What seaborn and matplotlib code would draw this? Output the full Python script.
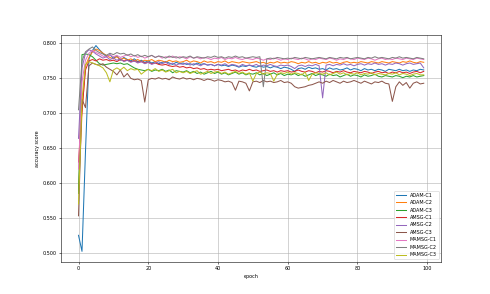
import numpy as np
import pandas as pd
import matplotlib
matplotlib.use("Agg")
import matplotlib.pyplot as plt
import seaborn as sns
from matplotlib.ticker import MultipleLocator, FormatStrFormatter

epochs = list(range(100))
series_names = ["ADAM-C1", "ADAM-C2", "ADAM-C3", "AMSG-C1", "AMSG-C2",
                "AMSG-C3", "MAMSG-C1", "MAMSG-C2", "MAMSG-C3"]
series_colors = ["#1f77b4", "#ff7f0e", "#2ca02c", "#d62728", "#9467bd",
                 "#8c564b", "#e377c2", "#7f7f7f", "#bcbd22"]

adam_c1 = [.525, .502, .645, .778, .790, .797, .791, .786, .781, .784,
           .779, .782, .776, .780, .777, .775, .778, .774, .776, .773,
           .775, .772, .774, .771, .773, .774, .772, .770, .773, .771,
           .772, .770, .771, .769, .772, .770, .771, .769, .770, .768,
           .770, .768, .769, .767, .769, .768, .766, .768, .767, .769,
           .767, .766, .768, .766, .767, .765, .767, .766, .764, .766,
           .765, .763, .760, .764, .765, .763, .766, .764, .765, .763,
           .764, .762, .765, .763, .764, .762, .763, .765, .762, .764,
           .763, .761, .764, .762, .763, .761, .763, .762, .760, .763,
           .762, .761, .763, .761, .762, .760, .762, .761, .763, .762]
adam_c2 = [.590, .700, .768, .780, .788, .792, .790, .786, .783, .780,
           .778, .781, .777, .779, .776, .778, .775, .777, .774, .776,
           .775, .777, .774, .776, .775, .773, .776, .774, .775, .773,
           .774, .776, .773, .775, .774, .772, .775, .773, .774, .772,
           .774, .773, .775, .772, .774, .773, .772, .774, .773, .772,
           .773, .774, .772, .773, .771, .773, .772, .774, .772, .773,
           .772, .774, .773, .771, .773, .772, .774, .772, .773, .771,
           .773, .772, .774, .772, .773, .771, .773, .774, .772, .773,
           .772, .774, .773, .772, .774, .773, .772, .774, .773, .772,
           .774, .773, .772, .774, .773, .775, .773, .772, .774, .773]
adam_c3 = [.585, .784, .785, .784, .781, .776, .771, .769, .770, .771,
           .772, .771, .772, .770, .771, .768, .765, .763, .762, .761,
           .763, .760, .762, .761, .763, .760, .762, .758, .761, .760,
           .759, .761, .758, .760, .757, .759, .756, .758, .760, .757,
           .759, .756, .758, .755, .757, .759, .756, .758, .755, .757,
           .756, .758, .755, .757, .754, .756, .758, .755, .757, .754,
           .756, .755, .757, .754, .756, .753, .755, .757, .754, .756,
           .755, .753, .756, .754, .755, .752, .754, .756, .753, .755,
           .754, .752, .755, .753, .754, .756, .753, .752, .754, .753,
           .752, .754, .753, .751, .753, .752, .754, .752, .753, .754]
amsg_c1 = [.630, .705, .762, .775, .777, .775, .778, .776, .777, .775,
           .776, .774, .777, .775, .776, .774, .775, .773, .774, .772,
           .773, .771, .772, .770, .769, .770, .768, .767, .768, .766,
           .767, .765, .766, .764, .765, .763, .764, .762, .763, .762,
           .763, .761, .762, .763, .761, .762, .760, .762, .761, .763,
           .761, .762, .760, .761, .762, .760, .761, .759, .761, .760,
           .761, .759, .760, .762, .760, .759, .761, .760, .758, .760,
           .759, .761, .760, .758, .760, .759, .761, .759, .758, .760,
           .759, .758, .760, .759, .757, .759, .760, .758, .759, .757,
           .759, .758, .760, .758, .759, .757, .759, .760, .758, .760]
amsg_c2 = [.664, .765, .786, .791, .789, .785, .782, .779, .781, .777,
           .779, .776, .778, .774, .776, .773, .775, .772, .774, .771,
           .773, .770, .772, .774, .771, .773, .770, .772, .769, .771,
           .770, .772, .769, .771, .770, .768, .771, .769, .770, .768,
           .770, .769, .771, .768, .770, .769, .767, .770, .768, .769,
           .768, .770, .767, .769, .768, .770, .768, .767, .769, .768,
           .769, .767, .764, .768, .769, .767, .769, .768, .770, .768,
           .722, .769, .770, .768, .770, .769, .771, .769, .770, .768,
           .770, .771, .769, .771, .770, .772, .770, .771, .769, .771,
           .770, .772, .771, .769, .771, .772, .770, .771, .772, .765]
amsg_c3 = [.553, .720, .708, .768, .772, .770, .769, .771, .766, .763,
           .760, .755, .762, .752, .757, .750, .748, .749, .747, .716,
           .748, .750, .749, .751, .749, .750, .748, .752, .750, .749,
           .751, .749, .750, .748, .750, .749, .747, .749, .748, .746,
           .748, .747, .745, .746, .744, .733, .746, .745, .743, .732,
           .745, .746, .744, .747, .745, .746, .744, .745, .747, .744,
           .745, .743, .738, .736, .737, .738, .740, .741, .743, .745,
           .743, .746, .744, .747, .745, .743, .746, .744, .745, .747,
           .745, .743, .746, .744, .742, .745, .744, .746, .743, .742,
           .717, .738, .745, .740, .744, .736, .743, .745, .742, .743]
mamsg_c1 = [.620, .745, .776, .786, .790, .787, .785, .782, .780, .784,
            .781, .783, .780, .782, .784, .781, .783, .780, .782, .779,
            .781, .783, .780, .782, .779, .781, .780, .782, .779, .781,
            .780, .778, .781, .779, .780, .778, .780, .779, .777, .779,
            .778, .780, .777, .779, .778, .780, .778, .777, .779, .778,
            .777, .779, .778, .776, .778, .777, .779, .778, .776, .778,
            .777, .779, .778, .777, .779, .778, .776, .778, .777, .779,
            .778, .777, .779, .778, .776, .778, .777, .779, .778, .777,
            .779, .778, .777, .779, .778, .776, .778, .779, .777, .778,
            .777, .779, .778, .777, .779, .778, .777, .779, .778, .777]
mamsg_c2 = [.705, .775, .788, .792, .795, .790, .787, .785, .783, .786,
            .784, .787, .785, .786, .783, .785, .782, .784, .781, .783,
            .781, .783, .780, .782, .781, .779, .782, .780, .781, .779,
            .781, .780, .782, .779, .781, .780, .779, .781, .780, .782,
            .780, .781, .779, .781, .780, .782, .780, .781, .779, .780,
            .781, .780, .781, .738, .778, .779, .778, .780, .779, .778,
            .779, .778, .780, .779, .778, .780, .779, .778, .779, .780,
            .779, .778, .780, .779, .778, .780, .779, .780, .778, .779,
            .780, .779, .778, .780, .779, .781, .779, .780, .779, .778,
            .780, .779, .781, .779, .780, .779, .778, .780, .779, .778]
mamsg_c3 = [.570, .720, .770, .774, .772, .770, .768, .765, .758, .745,
            .762, .765, .762, .766, .761, .764, .762, .763, .756, .760,
            .763, .761, .764, .760, .762, .759, .761, .763, .758, .760,
            .758, .760, .757, .759, .761, .756, .758, .760, .757, .759,
            .760, .757, .759, .756, .758, .760, .757, .759, .756, .758,
            .746, .757, .759, .756, .758, .757, .746, .756, .758, .757,
            .759, .756, .758, .757, .755, .759, .747, .756, .758, .757,
            .756, .758, .755, .757, .759, .756, .758, .755, .757, .756,
            .758, .755, .757, .756, .758, .755, .757, .756, .755, .757,
            .756, .758, .755, .757, .756, .754, .756, .757, .755, .755]

all_series = [adam_c1, adam_c2, adam_c3, amsg_c1, amsg_c2,
              amsg_c3, mamsg_c1, mamsg_c2, mamsg_c3]

frames = []
for name, vals in zip(series_names, all_series):
    frames.append(pd.DataFrame({"epoch": epochs, "score": vals, "series": name}))
df = pd.concat(frames, ignore_index=True)

plt.rcParams["font.size"] = 7.2

fig, ax = plt.subplots(figsize=(10, 6), dpi=49)
sns.lineplot(data=df, x="epoch", y="score", hue="series",
             hue_order=series_names,
             palette=dict(zip(series_names, series_colors)),
             ax=ax, linewidth=1.5)
ax.grid(True, color="#b0b0b0", linewidth=0.8)
ax.set_xlabel("epoch")
ax.set_ylabel("accuracy score")
ax.yaxis.set_major_locator(MultipleLocator(0.05))
ax.yaxis.set_major_formatter(FormatStrFormatter("%.3f"))
ax.set_xticks([0, 20, 40, 60, 80, 100])
ax.legend(loc="lower right", fontsize=7.2)
fig.savefig("out.png", dpi=49)
